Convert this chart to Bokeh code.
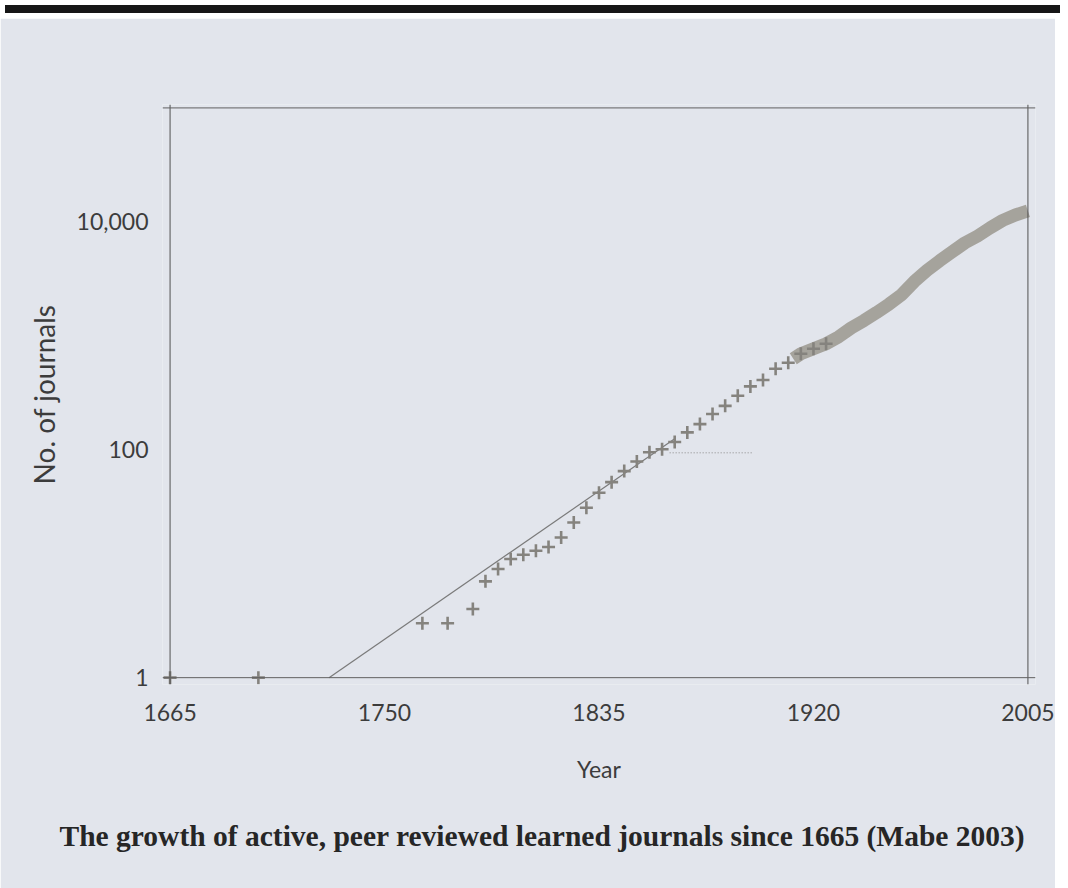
from bokeh.plotting import figure
from bokeh.models import Span, FixedTicker, Div, Title
from bokeh.layouts import column
from bokeh.embed import file_html
from bokeh.resources import INLINE

# ---- data ----
point_years = [1665, 1700, 1765, 1775, 1785, 1790, 1795, 1800, 1805, 1810, 1815,
               1820, 1825, 1830, 1835, 1840, 1845, 1850, 1855, 1860, 1865, 1870,
               1875, 1880, 1885, 1890, 1895, 1900, 1905, 1910, 1915, 1920, 1925]
point_journals = [1, 1, 3, 3, 4, 7, 9, 11, 12, 13, 14,
                  17, 23, 31, 42, 52, 65, 79, 95, 101, 117, 142,
                  168, 206, 243, 298, 360, 410, 514, 580, 695, 769, 851]

band_years = [1912, 1915, 1920, 1925, 1930, 1935, 1940, 1945, 1950, 1955,
              1960, 1965, 1970, 1975, 1980, 1985, 1990, 1995, 2000, 2005]
band_journals = [630, 695, 769, 851, 980, 1175, 1360, 1600, 1900, 2300,
                 3000, 3750, 4550, 5460, 6540, 7500, 8850, 10300, 11500, 12500]

fit_years = [1728, 1865]
fit_journals = [1, 125]

mark_years = [1863, 1896]
mark_journals = [94, 94]

x_ticks = [1665, 1750, 1835, 1920, 2005]
y_ticks = [1, 100, 10000]
y_tick_labels = {1: "1", 100: "100", 10000: "10,000"}

caption = "The growth of active, peer reviewed learned journals since 1665 (Mabe 2003)"

BG = "#e2e5ec"
INK = "#3c3c3c"

p = figure(width=1055, height=870,
           x_range=(1662, 2008), y_range=(10 ** -0.06, 10 ** 5.03),
           y_axis_type="log", output_backend="svg", toolbar_location=None,
           min_border_left=162, min_border_right=20,
           min_border_top=86, min_border_bottom=204)
p.background_fill_color = BG
p.border_fill_color = BG
p.outline_line_color = None
p.grid.visible = False

# frame lines
for loc in [1665, 2005]:
    p.add_layout(Span(location=loc, dimension="height", line_color="#505050", line_width=1))
for loc in [1, 100000]:
    p.add_layout(Span(location=loc, dimension="width", line_color="#606060", line_width=1))

# fitted exponential line
p.line(fit_years, fit_journals, line_color="#7a7a7a", line_width=1.2)
# short dotted mark
p.line(mark_years, mark_journals, line_color="#8a8a8a", line_width=1, line_dash="1 2")
# dense band of yearly counts
p.line(band_years, band_journals, line_color="#9e9b94", line_width=13, line_alpha=0.9,
       line_cap="butt", line_join="round")
# individual counts
p.scatter(point_years, point_journals, marker="cross", size=13, line_width=2.6,
          line_color="#85837e")

# axes
p.xaxis.ticker = FixedTicker(ticks=x_ticks)
p.yaxis.ticker = FixedTicker(ticks=y_ticks)
p.yaxis.major_label_overrides = y_tick_labels
for ax in (p.xaxis, p.yaxis):
    ax.axis_line_color = None
    ax.major_tick_line_color = None
    ax.minor_tick_line_color = None
    ax.major_label_text_font = "Lato"
    ax.major_label_text_font_size = "23px"
    ax.major_label_text_color = INK
    ax.axis_label_text_font = "Lato"
    ax.axis_label_text_font_style = "normal"
    ax.axis_label_text_color = INK
p.xaxis.axis_label_text_font_size = "23px"
p.yaxis.axis_label_text_font_size = "28px"
p.xaxis.major_label_standoff = 13
p.yaxis.major_label_standoff = 8
p.xaxis.axis_label = "Year"
p.yaxis.axis_label = "No. of journals"
p.xaxis.axis_label_standoff = 31
p.yaxis.axis_label_standoff = 13

p.add_layout(Title(text=caption, align="left", offset=-103, standoff=64,
                   text_font="Liberation Serif", text_font_style="bold",
                   text_font_size="29.5px", text_color="#262626"), "below")

top_strip = Div(text="", width=1055, height=8,
                styles={"background-color": "#161616"})

layout = column(top_strip, p, spacing=0)
open("out.html", "w").write(file_html(layout, INLINE))
